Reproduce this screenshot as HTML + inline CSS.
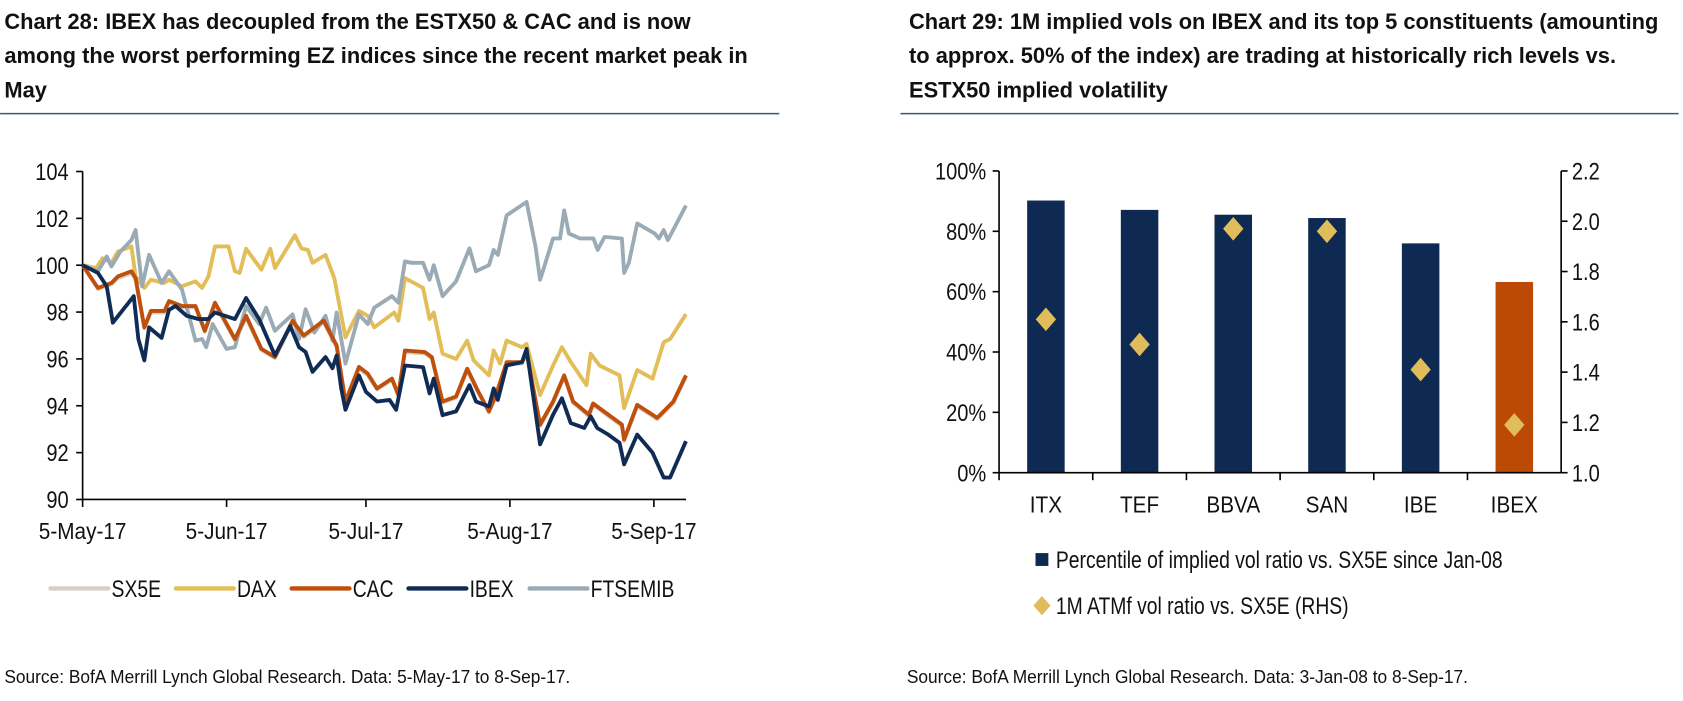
<!DOCTYPE html>
<html><head><meta charset="utf-8">
<style>
html,body{margin:0;padding:0;background:#fff;}
svg{display:block;font-family:"Liberation Sans",Arial,sans-serif;}
.t{font-weight:bold;font-size:20.4px;fill:#111;}
.ax{font-size:22px;fill:#111;}
.lg{font-size:22px;fill:#111;}
.src{font-size:17px;fill:#111;}
</style></head>
<body>
<svg id="root" width="1683" height="701" viewBox="0 0 1570 654">
  <g>
    <text class="t" x="4" y="27">Chart 28: IBEX has decoupled from the ESTX50 &amp; CAC and is now</text>
    <text class="t" x="4" y="59">among the worst performing EZ indices since the recent market peak in</text>
    <text class="t" x="4" y="91">May</text>
  </g>
  <line x1="0" y1="106" x2="727" y2="106" stroke="#3a567f" stroke-width="1.3"/>
  <g>
    <text class="t" x="848" y="27">Chart 29: 1M implied vols on IBEX and its top 5 constituents (amounting</text>
    <text class="t" x="848" y="59">to approx. 50% of the index) are trading at historically rich levels vs.</text>
    <text class="t" x="848" y="91">ESTX50 implied volatility</text>
  </g>
  <line x1="840" y1="106" x2="1566" y2="106" stroke="#3a567f" stroke-width="1.3"/>
  <g id="left"></g>
  <g id="right"></g>
  <text class="src" transform="translate(4,637) scale(0.95,1)">Source: BofA Merrill Lynch Global Research. Data: 5-May-17 to 8-Sep-17.</text>
  <text class="src" transform="translate(846,637) scale(0.95,1)">Source: BofA Merrill Lynch Global Research. Data: 3-Jan-08 to 8-Sep-17.</text>
</svg>
<script>
// ---- Chart 28 data ----
const yTicks = [90, 92, 94, 96, 98, 100, 102, 104];
const xTickDays = [0, 31, 61, 92, 123];
const xTickLabels = ["5-May-17", "5-Jun-17", "5-Jul-17", "5-Aug-17", "5-Sep-17"];
const seriesNames = ["SX5E", "DAX", "CAC", "IBEX", "FTSEMIB"];
const ibexDays = [0,3.3,5.2,6.5,11,12,13.3,14.3,17,18.6,20,22.4,25,27,28.5,32.8,35.2,38,41.4,44.7,46.6,48,49.5,52.3,53.8,54.7,55.7,56.6,59.5,61,63.4,66.1,67.5,69.4,73.3,74.7,75.6,77.5,80.4,83.3,84.7,87.5,88.5,89.4,91.3,94.6,95.6,98.5,101.3,103.2,105.1,108,109.4,110.8,113.2,115.6,116.6,119.4,122.7,125.1,126.5,129.9];
const ibexVals = [100,99.67,99.1,97.55,98.68,96.85,95.94,97.35,96.9,98.1,98.26,97.84,97.7,97.7,97.98,97.7,98.6,97.7,96.15,97.4,96.5,96.3,95.45,96.08,95.6,96.15,94.74,93.83,95.3,94.6,94.18,94.25,93.83,95.72,95.65,94.53,95.16,93.6,93.76,94.88,94.18,93.97,94.74,94.25,95.72,95.86,96.43,92.35,93.62,94.32,93.26,93.05,93.55,93.05,92.77,92.42,91.5,92.77,92.0,90.94,90.94,92.49];
const cacDays = [0,3.3,6.2,7.6,10.5,11.4,13.3,14.7,17.6,18.6,21.4,24.3,26.3,28.5,32.8,35.2,38.5,41.4,45.2,47.6,51.9,54.7,56.6,59.5,61.4,63.4,66.6,68,69.4,73.7,75.2,77.5,80.4,82.8,85.2,87.5,89,91.3,94.6,95.6,98.5,101.3,103.7,105.6,109,109.9,113.2,116.1,116.6,119.4,122.7,123.7,125.1,127.2,129.9];
const cacVals = [100,99.03,99.24,99.52,99.74,99.45,97.35,98.05,98.05,98.47,98.26,98.26,97.2,98.4,96.85,97.84,96.43,96.08,97.63,97.0,97.63,96.57,94.18,95.66,95.37,94.74,95.16,94.46,96.36,96.29,96.08,94.18,94.39,95.58,94.6,93.76,94.46,95.86,95.86,96.29,93.2,94.18,95.3,94.18,93.62,94.1,93.62,93.2,92.56,94.04,93.62,93.48,93.76,94.18,95.3];
const sx5eVals = [100,98.98,99.18,99.45,99.66,99.38,97.3,97.98,97.98,98.4,98.2,98.2,97.16,98.32,96.8,97.76,96.38,96.04,97.56,96.94,97.56,96.5,94.14,95.6,95.3,94.7,95.1,94.42,96.3,96.22,96.02,94.14,94.34,95.52,94.55,93.72,94.4,95.8,95.8,96.22,93.14,94.12,95.24,94.12,93.56,94.04,93.56,93.14,92.5,93.98,93.56,93.42,93.7,94.12,95.24];
const daxDays = [0,2.9,4.3,6.2,7.6,10.5,11.4,13.3,14.7,17.6,18.6,21.4,24.3,25.7,27.1,28.5,31.4,32.8,33.8,35.2,38.5,40.4,41.4,45.7,47.1,48.5,49.5,52.3,54.2,56.6,59.5,61.4,62.8,67.1,68,69.4,73.3,74.7,75.6,77.5,80.4,82.8,84.2,87.5,88.5,89.9,91.3,94.6,95.6,98.5,101.3,103.2,105.1,108.5,109.4,111.3,115.6,116.6,119.4,122.7,125.1,126.5,129.9];
const daxVals = [100,99.88,100.3,100.1,100.58,100.8,99.52,99.03,99.38,99.24,99.38,99.1,99.31,99.03,99.52,100.8,100.8,99.74,99.67,100.7,99.81,100.7,99.88,101.28,100.72,100.65,100.1,100.44,99.45,96.92,98.05,97.84,97.35,97.98,97.63,99.45,99.03,97.7,97.98,96.22,96.0,96.78,95.94,95.3,96.36,95.8,96.78,96.5,96.64,94.46,95.72,96.5,95.87,94.88,96.22,95.72,95.3,93.9,95.52,95.16,96.71,96.85,97.91];
const ftseDays = [0,3.3,5.2,6.2,8.1,10.5,11.4,12.8,14.3,17,18.6,21.4,24.3,25.7,26.6,28,31,32.8,35.2,38,39.5,41.4,45.2,46.6,48,49.9,52.3,53.8,54.7,56.6,59.5,61.4,62.8,66.6,68,69.4,70.8,73.3,74.7,75.6,77.5,80.4,83.3,84.7,87.5,88.5,89.4,91.3,95.6,97.5,98.5,101.3,102.8,103.7,104.7,107.1,110,110.9,112.4,116.1,116.6,117.6,119.4,123.2,124.1,125.1,126,129.9];
const ftseVals = [100,99.74,100.37,99.95,100.58,101.07,101.5,99.1,100.44,99.24,99.74,98.96,96.78,96.85,96.5,97.49,96.43,96.5,98.26,97.49,98.19,97.2,97.9,96.85,98.12,97.13,97.84,96.78,97.98,95.8,97.9,97.49,98.19,98.68,98.4,100.16,100.1,100.1,99.38,100.0,98.68,99.31,100.72,99.74,100.0,100.65,100.44,102.13,102.7,100.8,99.38,101.14,101.14,102.34,101.35,101.14,101.14,100.65,101.21,101.14,99.67,100.1,101.78,101.35,101.14,101.5,101.07,102.55];

// ---- Chart 29 data ----
const categories = ["ITX", "TEF", "BBVA", "SAN", "IBE", "IBEX"];
const percentileVals = [90.2, 87.1, 85.5, 84.4, 76.0, 63.2];
const volRatioVals = [1.61, 1.51, 1.97, 1.96, 1.41, 1.19];
const leftTickLabels = ["0%", "20%", "40%", "60%", "80%", "100%"];
const rightTickLabels = ["1.0", "1.2", "1.4", "1.6", "1.8", "2.0", "2.2"];

const NS = "http://www.w3.org/2000/svg";
function mk(parent, tag, attrs, text) {
  const e = document.createElementNS(NS, tag);
  for (const k in attrs) e.setAttribute(k, attrs[k]);
  if (text !== undefined) e.textContent = text;
  parent.appendChild(e);
  return e;
}
function nt(parent, x, y, anchor, cls, str, sx) {
  return mk(parent, 'text', {x: 0, y: 0, 'text-anchor': anchor, class: cls,
    transform: `translate(${x},${y}) scale(${sx},1)`}, str);
}

// ===== Left chart =====
const L = document.getElementById('left');
const x0 = 77, pxPerDay = 4.333, yTop = 160, yBot = 466, vMin = 90, vMax = 104;
const xs = d => x0 + d * pxPerDay;
const ys = v => yBot - (v - vMin) / (vMax - vMin) * (yBot - yTop);

let e = mk(L, 'line', {x1: x0, y1: yTop, x2: x0, y2: yBot, stroke: '#000', 'stroke-width': 1.5});


e = mk(L, 'line', {x1: x0, y1: yBot, x2: 640, y2: yBot, stroke: '#000', 'stroke-width': 1.5});


yTicks.forEach(v => {
  const y = ys(v);
  let t = mk(L, 'line', {x1: x0 - 6, y1: y, x2: x0, y2: y, stroke: '#000', 'stroke-width': 1.5});
  
  
  t = nt(L, 64, y + 8, 'end', 'ax', String(v), 0.85);
  
  
});
xTickDays.forEach((d, i) => {
  const x = xs(d);
  let t = mk(L, 'line', {x1: x, y1: yBot, x2: x, y2: yBot + 7, stroke: '#000', 'stroke-width': 1.5});
  
  
  t = nt(L, x, 503, 'middle', 'ax', xTickLabels[i], 0.88);
  
  
});
const seriesDefs = [
  [cacDays, sx5eVals, '#d5cfc7', 'line-sx5e'],
  [daxDays, daxVals, '#e3bd57', 'line-dax'],
  [ftseDays, ftseVals, '#9aabb6', 'line-ftsemib'],
  [cacDays, cacVals, '#bf4f0b', 'line-cac'],
  [ibexDays, ibexVals, '#102c55', 'line-ibex'],
];
seriesDefs.forEach(s => {
  const pts = s[0].map((d, i) => xs(d).toFixed(1) + ',' + ys(s[1][i]).toFixed(1)).join(' ');
  const p = mk(L, 'polyline', {points: pts, fill: 'none', stroke: s[2], 'stroke-width': 3.6, 'stroke-linejoin': 'round'});
  
  
});
const legendColors = ['#d5cfc7', '#e3bd57', '#bf4f0b', '#102c55', '#9aabb6'];
const legendX = [47, 164, 272, 381, 494];
seriesNames.forEach((n, i) => {
  const g = mk(L, 'g', {});
  
  
  mk(g, 'line', {x1: legendX[i], y1: 549, x2: legendX[i] + 54, y2: 549, stroke: legendColors[i], 'stroke-width': 4, 'stroke-linecap': 'round'});
  nt(g, legendX[i] + 57, 557, 'start', 'lg', n, 0.82);
});

// ===== Right chart =====
const R = document.getElementById('right');
const rx0 = 932, catW = 87.4, ry0 = 441, ryTop = 159.5, barW = 35;
const yl = p => ry0 - p / 100 * (ry0 - ryTop);
const yr = v => ry0 - (v - 1.0) / 1.2 * (ry0 - ryTop);
const rx1 = rx0 + catW * categories.length;

e = mk(R, 'line', {x1: rx0, y1: ryTop, x2: rx0, y2: ry0, stroke: '#000', 'stroke-width': 1.5});


e = mk(R, 'line', {x1: rx1, y1: ryTop, x2: rx1, y2: ry0, stroke: '#000', 'stroke-width': 1.5});


leftTickLabels.forEach((lab, i) => {
  const y = yl(i * 20);
  let t = mk(R, 'line', {x1: rx0 - 6, y1: y, x2: rx0, y2: y, stroke: '#000', 'stroke-width': 1.5});
  
  
  t = nt(R, 920, y + 8, 'end', 'ax', lab, 0.85);
  
  
});
rightTickLabels.forEach(lab => {
  const y = yr(parseFloat(lab));
  let t = mk(R, 'line', {x1: rx1, y1: y, x2: rx1 + 6, y2: y, stroke: '#000', 'stroke-width': 1.5});
  
  
  t = nt(R, rx1 + 10, y + 8, 'start', 'ax', lab, 0.85);
  
  
});
categories.forEach((c, i) => {
  const cx = rx0 + catW * (i + 0.5);
  const top = yl(percentileVals[i]);
  const b = mk(R, 'rect', {x: cx - barW / 2, y: top, width: barW, height: ry0 - top, fill: c === 'IBEX' ? '#bd4a04' : '#0e2a52'});
  
  
  const dy = yr(volRatioVals[i]);
  const d = mk(R, 'polygon', {points: `${cx},${dy - 11} ${cx + 9.5},${dy} ${cx},${dy + 11} ${cx - 9.5},${dy}`, fill: '#e1bc5a'});
  
  
  const t = nt(R, cx, 478, 'middle', 'ax', c, 0.88);
  
  
  const tk = mk(R, 'line', {x1: rx0 + catW * i, y1: ry0, x2: rx0 + catW * i, y2: ry0 + 7, stroke: '#000', 'stroke-width': 1.5});
  
  
});
e = mk(R, 'line', {x1: rx0, y1: ry0, x2: rx1, y2: ry0, stroke: '#000', 'stroke-width': 1.5});



let lg = mk(R, 'g', {});


mk(lg, 'rect', {x: 966, y: 516, width: 12, height: 12, fill: '#0e2a52'});
nt(lg, 985, 530, 'start', 'lg', 'Percentile of implied vol ratio vs. SX5E since Jan-08', 0.82);
lg = mk(R, 'g', {});


mk(lg, 'polygon', {points: '972,556 980,565 972,574 964,565', fill: '#e1bc5a'});
nt(lg, 985, 573, 'start', 'lg', '1M ATMf vol ratio vs. SX5E (RHS)', 0.82);
</script>
</body></html>
